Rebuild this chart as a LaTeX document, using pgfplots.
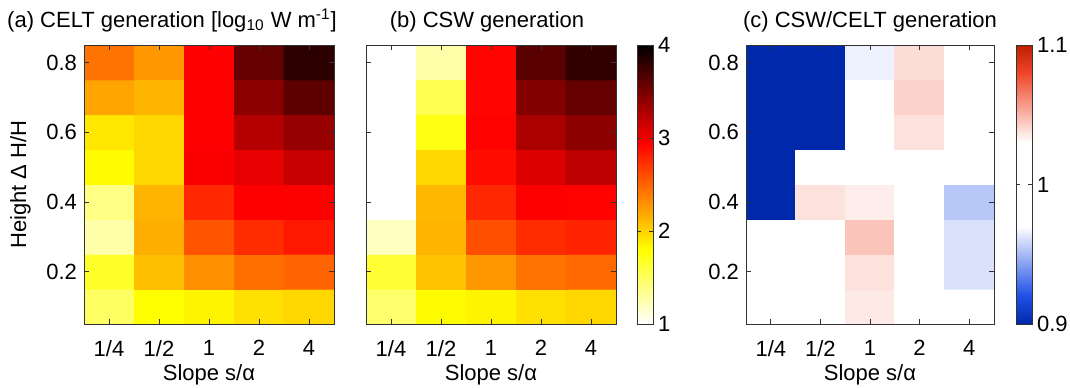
\documentclass[border=0pt]{standalone}
\usepackage{pgfplots}
\pgfplotsset{compat=1.18}
\usepackage{fontspec}
\setmainfont{Liberation Sans}
\pgfplotsset{
  colormap={hotr}{rgb255(0pt)=(255,255,255) rgb255(8pt)=(255,255,0) rgb255(19.5pt)=(255,0,0) rgb255(30pt)=(0,0,0)},
  colormap={bwr}{rgb255(0pt)=(0,40,170) rgb255(2pt)=(30,80,230) rgb255(7pt)=(255,255,255) rgb255(13pt)=(255,255,255) rgb255(18pt)=(240,70,40) rgb255(20pt)=(190,30,0)},
  common/.style={
    scale only axis, width=125pt, height=139.5pt,
    anchor=south west,
    xmin=-0.5, xmax=4.5, ymin=0.05, ymax=0.85,
    xtick={0,1,2,3,4}, xticklabels={1/4,1/2,1,2,4},
    ytick={0.2,0.4,0.6,0.8},
    yticklabel style={/pgf/number format/fixed, /pgf/number format/precision=1},
    tick align=inside, tick pos=both,
    major tick length=2.5pt,
    tick style={black!80, line width=0.4pt},
    axis line style={black!80, line width=0.5pt},
    /pgf/number format/assume math mode=true,
    font=\fontsize{11}{13}\selectfont,
    xticklabel style={yshift=-4.5pt},
    xlabel={Slope s/α},
    xlabel style={at={(axis description cs:0.5,0)}, anchor=base, yshift=-28pt},
    axis on top,
    every axis title shift=0pt,
    title style={anchor=base},
  },
  cbar/.style={
    width=8pt,
    at={(parent axis.north east)}, anchor=north west,
    tick align=inside, major tick length=2pt,
    tick style={black!80},
    axis line style={black!80, line width=0.5pt},
    font=\fontsize{11}{13}\selectfont,
    /pgf/number format/assume math mode=true,
    yticklabel style={xshift=-1pt},
  },
}
\pgfplotstableread{
x y c
0 0.1 1.49
1 0.1 1.80
2 0.1 1.85
3 0.1 1.94
4 0.1 1.98
0 0.2 1.67
1 0.2 2.09
2 0.2 2.30
3 0.2 2.45
4 0.2 2.50
0 0.3 1.27
1 0.3 2.16
2 0.3 2.57
3 0.3 2.75
4 0.3 2.84
0 0.4 1.39
1 0.4 2.14
2 0.4 2.77
3 0.4 2.95
4 0.4 2.96
0 0.5 1.82
1 0.5 1.98
2 0.5 2.97
3 0.5 3.05
4 0.5 3.18
0 0.6 1.91
1 0.6 1.98
2 0.6 2.95
3 0.6 3.26
4 0.6 3.38
0 0.7 2.21
1 0.7 2.14
2 0.7 2.95
3 0.7 3.42
4 0.7 3.61
0 0.8 2.43
1 0.8 2.27
2 0.8 2.95
3 0.8 3.59
4 0.8 3.82
}\celt
\pgfplotstableread{
x y c
0 0.1 1.46
1 0.1 1.82
2 0.1 1.85
3 0.1 1.94
4 0.1 1.98
0 0.2 1.64
1 0.2 2.07
2 0.2 2.27
3 0.2 2.43
4 0.2 2.48
0 0.3 1.20
1 0.3 2.14
2 0.3 2.59
3 0.3 2.75
4 0.3 2.79
0 0.4 1.00
1 0.4 2.12
2 0.4 2.77
3 0.4 2.95
4 0.4 2.94
0 0.5 1.00
1 0.5 1.98
2 0.5 2.90
3 0.5 3.09
4 0.5 3.22
0 0.6 1.00
1 0.6 1.74
2 0.6 2.94
3 0.6 3.30
4 0.6 3.42
0 0.7 1.00
1 0.7 1.55
2 0.7 2.93
3 0.7 3.46
4 0.7 3.59
0 0.8 1.00
1 0.8 1.27
2 0.8 2.93
3 0.8 3.63
4 0.8 3.79
}\csw
\pgfplotstableread{
x y c
0 0.1 1.000
1 0.1 1.000
2 0.1 1.036
3 0.1 1.000
4 0.1 1.000
0 0.2 1.000
1 0.2 1.000
2 0.2 1.038
3 0.2 1.000
4 0.2 0.9615
0 0.3 1.000
1 0.3 1.000
2 0.3 1.046
3 0.3 1.000
4 0.3 0.9615
0 0.4 0.900
1 0.4 1.038
2 0.4 1.0346
3 0.4 1.000
4 0.4 0.954
0 0.5 0.900
1 0.5 1.000
2 0.5 1.000
3 0.5 1.000
4 0.5 1.000
0 0.6 0.900
1 0.6 0.900
2 0.6 1.000
3 0.6 1.038
4 0.6 1.000
0 0.7 0.900
1 0.7 0.900
2 0.7 1.000
3 0.7 1.042
4 0.7 1.000
0 0.8 0.900
1 0.8 0.900
2 0.8 0.966
3 0.8 1.0395
4 0.8 1.000
}\ratio
\begin{document}
\begin{tikzpicture}
\useasboundingbox (0,0) rectangle (535pt,193.5pt);
% (a)
\begin{axis}[common, at={(42pt,31.5pt)},
  colormap name=hotr, point meta min=1, point meta max=4,
  title={(a) CELT generation [log\textsubscript{10} W m\textsuperscript{-1}]},
  title style={at={(axis description cs:0.352,1.0645)}},
  ylabel={Height Δ H/H},
  ylabel style={at={(axis description cs:-0.254,0.5)}, anchor=center},
]
\addplot[matrix plot*, mesh/cols=5, point meta=explicit] table[x=x, y=y, meta=c] {\celt};
\end{axis}
% (b)
\begin{axis}[common, at={(183pt,31.5pt)},
  colormap name=hotr, point meta min=1, point meta max=4,
  yticklabels={},
  title={(b) CSW generation},
  title style={at={(axis description cs:0.484,1.0645)}},
  colorbar, colorbar style={cbar, xshift=2pt, ytick={1,2,3,4}},
]
\addplot[matrix plot*, mesh/cols=5, point meta=explicit] table[x=x, y=y, meta=c] {\csw};
\end{axis}
% (c)
\begin{axis}[common, at={(373pt,31.5pt)}, width=124pt,
  colormap name=bwr, point meta min=0.9, point meta max=1.1,
  title={(c) CSW/CELT generation},
  title style={at={(axis description cs:0.5,1.0645)}},
  colorbar, colorbar style={cbar, xshift=2.5pt, ytick={0.9,1,1.1}, yticklabels={0.9,1,1.1}},
]
\addplot[matrix plot*, mesh/cols=5, point meta=explicit] table[x=x, y=y, meta=c] {\ratio};
\end{axis}
\end{tikzpicture}
\end{document}
